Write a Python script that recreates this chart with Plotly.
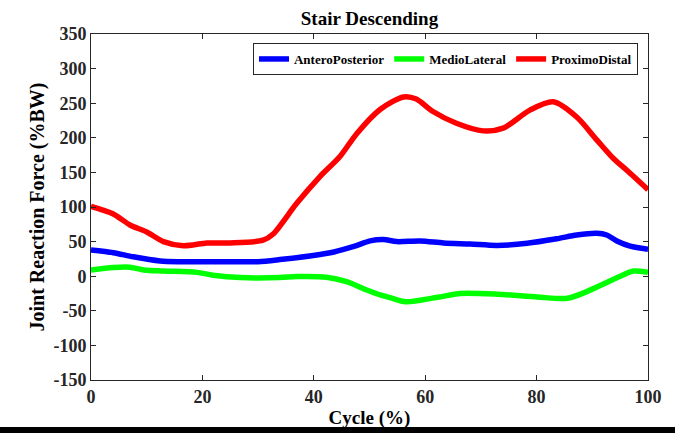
import plotly.graph_objects as go

# Gait cycle samples (%) and joint reaction forces (%BW)
cycle_ap = [0, 4, 7.6, 12.4, 16, 20, 25, 30, 33.9, 39.9, 43.6, 47.2, 50.1, 52.5, 54.9, 59.1,
            63.3, 68.1, 72.9, 78.3, 83.6, 87.2, 90.8, 92.6, 94.4, 96.8, 100]
antero_posterior = [38, 34, 28, 22, 21, 21, 21, 21, 24, 30, 35, 43, 51, 53, 50, 51,
                    48, 46.5, 44.5, 47.5, 54, 59.5, 62, 59.5, 51, 43.5, 39]

cycle_ml = [0, 4, 7, 9.5, 13, 19, 21.9, 26.8, 33.9, 36.9, 42.3, 45.9, 49.5, 51.9, 53.7, 56.5,
            62.2, 66.3, 72.9, 80.1, 85.5, 89.1, 92.1, 95, 97.4, 100]
medio_lateral = [9, 12.5, 13, 9, 7.5, 5.5, 1.5, -2, -2, -0.5, -1.5, -8, -20, -27, -31, -37,
                 -30.5, -25, -26, -30, -32, -22, -11, 0, 7.5, 5.5]

cycle_pd = [0, 4, 7, 10, 13, 16.6, 20.8, 25, 30.9, 32.7, 36.9, 41.1, 44.7, 47.7, 51.9, 56.1,
            58.4, 61.4, 65.6, 70.4, 74, 78.8, 83, 87.2, 90.8, 93.8, 96.2, 100]
proximo_distal = [101, 90, 74, 64, 50, 44, 48, 48, 52, 61, 105, 144, 173, 206, 241, 259,
                  256, 238, 221, 210, 214, 240, 252, 230, 197, 170, 153, 125]

series = [
    ("AnteroPosterior", cycle_ap, antero_posterior, "#0000FF"),
    ("MedioLateral", cycle_ml, medio_lateral, "#00FF00"),
    ("ProximoDistal", cycle_pd, proximo_distal, "#FF0000"),
]

x_ticks = [0, 20, 40, 60, 80, 100]
y_ticks = [-150, -100, -50, 0, 50, 100, 150, 200, 250, 300, 350]

font_family = "Liberation Serif"

fig = go.Figure()
for name, xs, ys, color in series:
    fig.add_trace(go.Scatter(
        x=xs, y=ys, name=f"<b>{name}</b>", mode="lines",
        line=dict(color=color, width=5.5, shape="spline", smoothing=0.8),
    ))

axis_common = dict(
    showline=True, linecolor="#262626", linewidth=1, mirror="ticks",
    ticks="inside", ticklen=5, tickcolor="#262626",
    showgrid=False, zeroline=False, automargin=False,
    tickfont=dict(family=font_family, size=18, color="#262626"),
)

fig.update_layout(
    width=675, height=433,
    margin=dict(l=91, r=27, t=34, b=53),
    paper_bgcolor="white", plot_bgcolor="white",
    title=dict(text="<b>Stair Descending</b>", x=(91 + 648) / 2 / 675, xanchor="center",
               y=1 - 18 / 433, yanchor="middle",
               font=dict(family=font_family, size=19, color="black")),
    xaxis=dict(range=[0, 100], tickvals=x_ticks,
               ticktext=[f"<b>{t}</b>" for t in x_ticks],
               title=dict(text="<b>Cycle (%)</b>", standoff=5,
                          font=dict(family=font_family, size=19, color="black")),
               **axis_common),
    yaxis=dict(range=[-150, 350], tickvals=y_ticks,
               ticktext=[f"<b>{t}</b>" for t in y_ticks],
               title=dict(text="<b>Joint Reaction Force (%BW)</b>", standoff=3,
                          font=dict(family=font_family, size=20, color="black")),
               **axis_common),
    legend=dict(orientation="h", x=0.982, xanchor="right", y=0.974, yanchor="top",
                bordercolor="#262626", borderwidth=1, bgcolor="white",
                font=dict(family=font_family, size=13, color="black"),
                itemwidth=30, tracegroupgap=0),
    showlegend=True,
)

# dark strip along the bottom edge of the figure
fig.add_shape(type="rect", xref="paper", yref="paper",
              x0=-0.2, x1=1.1, y0=(380 - 427) / 346, y1=(380 - 440) / 346,
              fillcolor="black", line=dict(width=0), layer="above")

fig.write_html("out.html")
